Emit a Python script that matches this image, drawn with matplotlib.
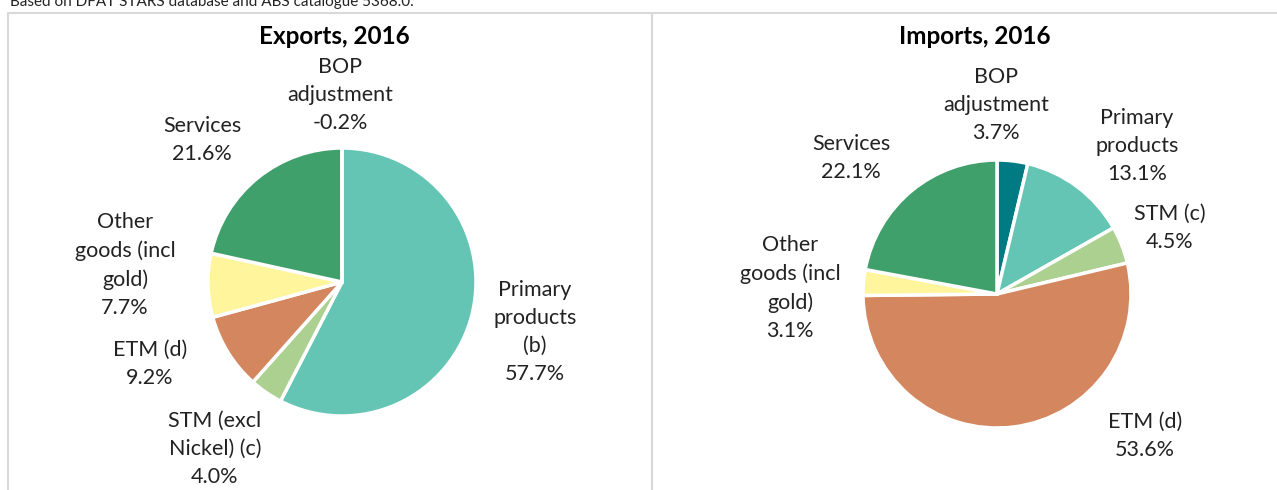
import numpy as np
import matplotlib.pyplot as plt
from matplotlib.patches import Rectangle

# data
export_labels = ['Primary\nproducts\n(b)', 'STM (excl\nNickel) (c)', 'ETM (d)',
                 'Other\ngoods (incl\ngold)', 'Services', 'BOP\nadjustment']
export_values = [57.7, 4.0, 9.2, 7.7, 21.6, -0.2]
export_colors = ['#64C5B4', '#ACD08F', '#D4875E', '#FFF59D', '#40A06B', '#007B84']

import_labels = ['BOP\nadjustment', 'Primary\nproducts', 'STM (c)', 'ETM (d)',
                 'Other\ngoods (incl\ngold)', 'Services']
import_values = [3.7, 13.1, 4.5, 53.6, 3.1, 22.1]
import_colors = ['#007B84', '#64C5B4', '#ACD08F', '#D4875E', '#FFF59D', '#40A06B']

# label centres in pixels of the reference picture
export_label_px = [(535, 332), (215, 449), (150, 364), (125, 265), (202, 140), (340, 95)]
import_label_px = [(996, 105), (1137, 146), (1170, 228), (1145, 436), (790, 288), (851, 158)]

W, H = 1277, 490
plt.rcParams['font.family'] = ['Lato', 'DejaVu Sans']

fig = plt.figure(figsize=(W / 100, H / 100), dpi=100)

# chart area borders
fig.patches.append(Rectangle((8 / W, -0.1), (652 - 8) / W, 1.1 - 13 / H, transform=fig.transFigure,
                             fill=False, edgecolor='#D9D9D9', linewidth=1.5))
fig.patches.append(Rectangle((652 / W, -0.1), (W + 10 - 652) / W, 1.1 - 13 / H, transform=fig.transFigure,
                             fill=False, edgecolor='#D9D9D9', linewidth=1.5))

fig.text(10 / W, 1 - 2 / H, 'Based on DFAT STARS database and ABS catalogue 5368.0.',
         fontsize=11, va='center', ha='left', color='#222222')


def draw_pie(cx, cy, r, values, labels, colors, label_px, title, title_x):
    ax = fig.add_axes([(cx - r) / W, (H - cy - r) / H, 2 * r / W, 2 * r / H])
    vals = np.clip(np.array(values), 0, None)
    ax.pie(vals, colors=colors, startangle=90, counterclock=False, radius=1,
           wedgeprops=dict(edgecolor='white', linewidth=2.5))
    ax.set_xlim(-1, 1)
    ax.set_ylim(-1, 1)
    ax.set_aspect('equal')
    ax.axis('off')
    for lab, v, (px, py) in zip(labels, values, label_px):
        ax.text((px - cx) / r, (cy - py) / r, '%s\n%.1f%%' % (lab, v), ha='center', va='center',
                fontsize=15.5, linespacing=1.5, color='#222222', clip_on=False)
    fig.text(title_x / W, 1 - 37 / H, title, ha='center', va='center', fontsize=17.5,
             fontweight='bold', color='black')


draw_pie(342, 282, 134, export_values, export_labels, export_colors, export_label_px,
         'Exports, 2016', 334)
draw_pie(997, 294, 134, import_values, import_labels, import_colors, import_label_px,
         'Imports, 2016', 975)

fig.savefig('out.png', dpi=100)
